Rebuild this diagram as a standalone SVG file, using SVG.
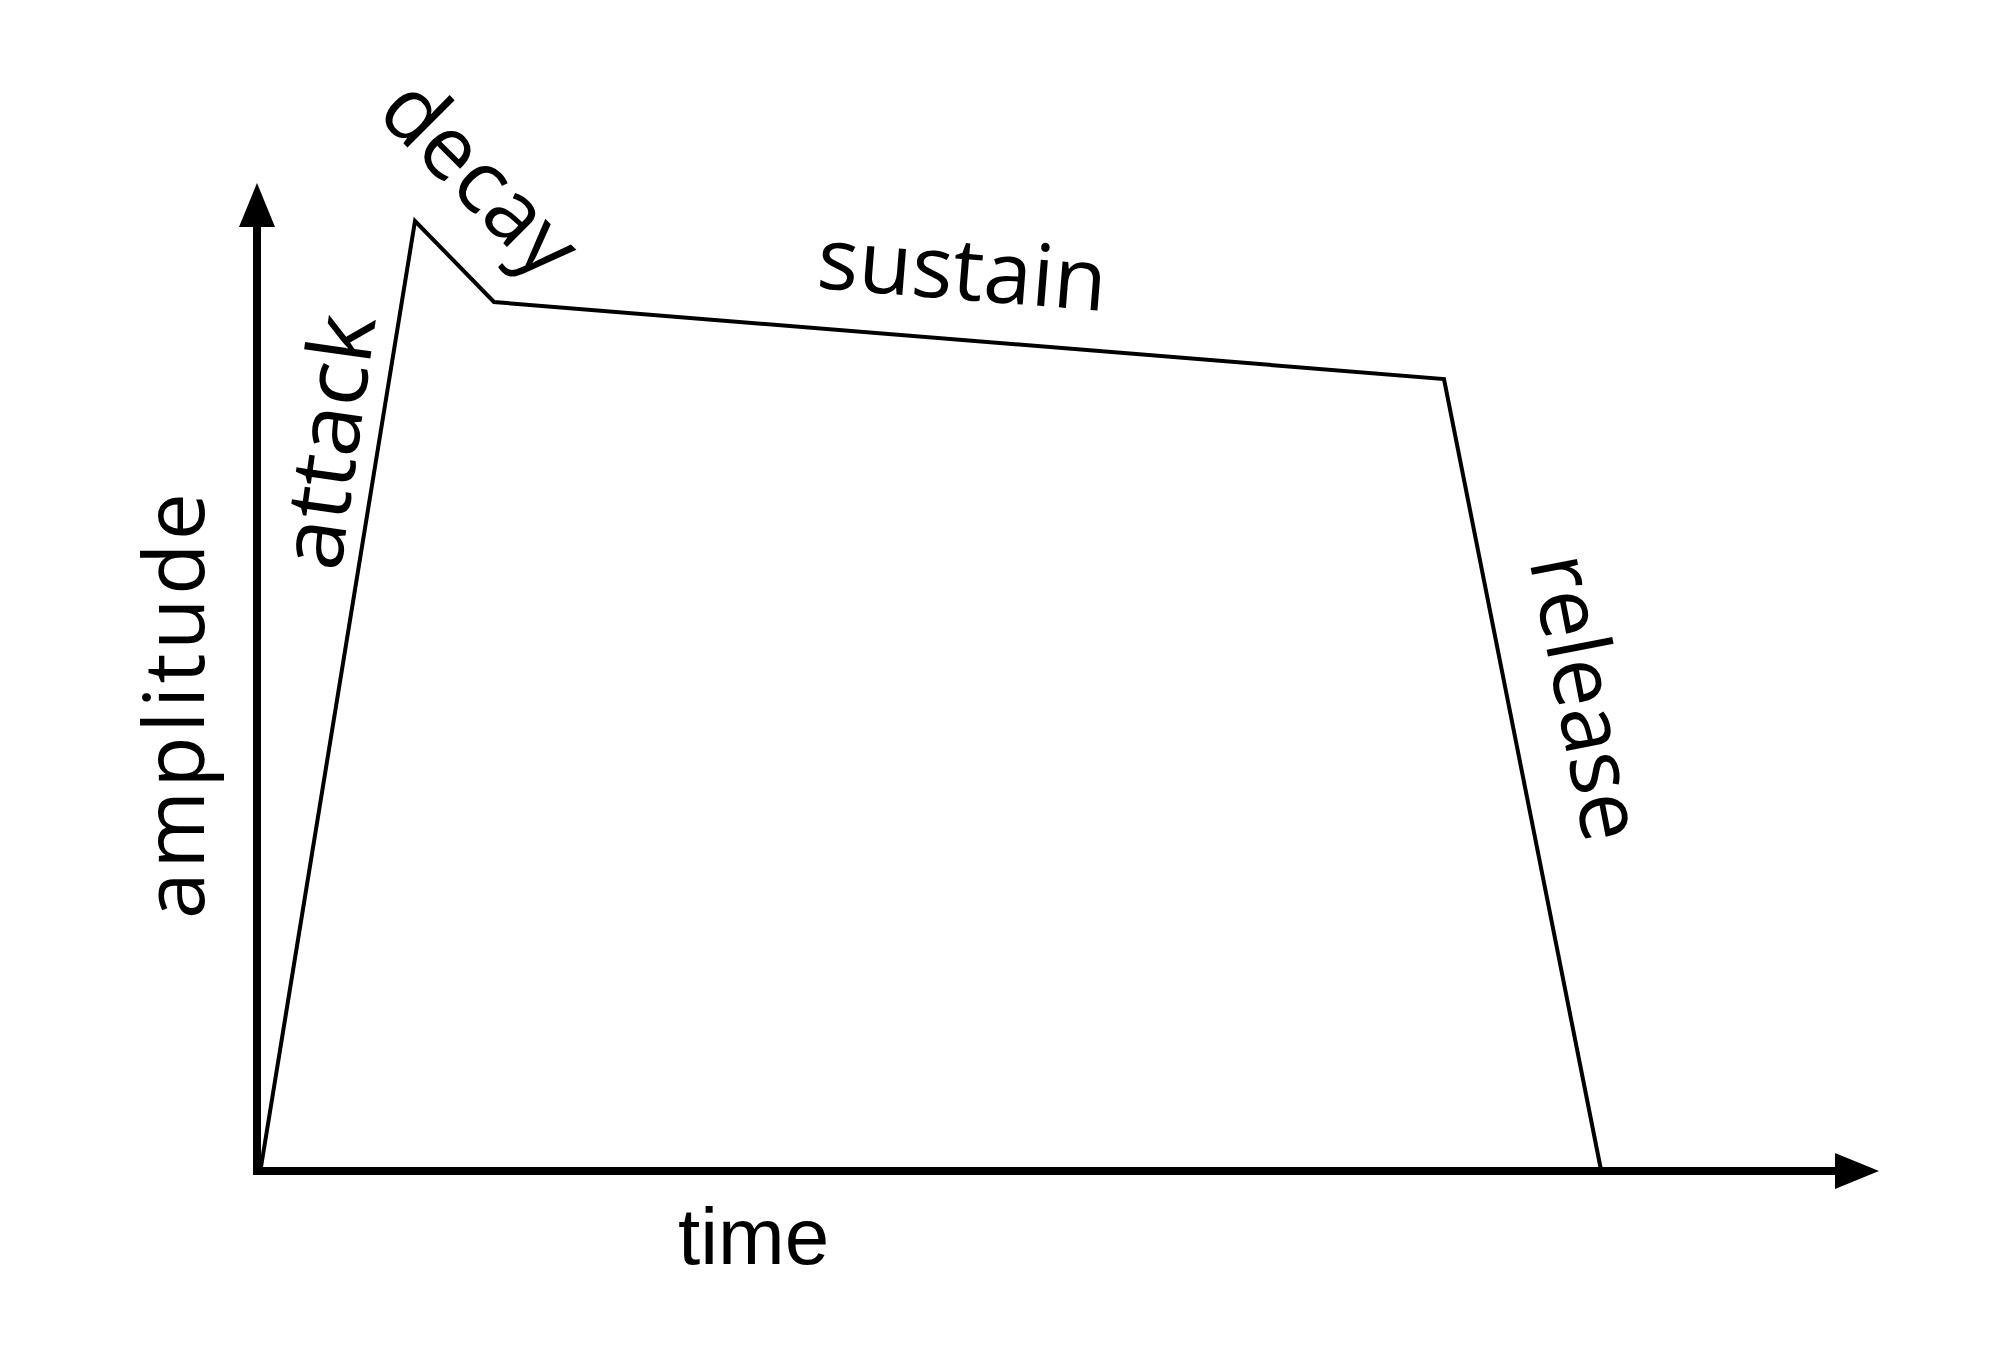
<svg xmlns="http://www.w3.org/2000/svg" width="2000" height="1368" viewBox="0 0 2000 1368">
  <style>
    .axis { stroke: #000; stroke-width: 8; fill: none; }
    .head { fill: #000; stroke: none; }
    .env { stroke: #000; stroke-width: 4; fill: none; stroke-linejoin: miter; }
    .lbl { font-family: "Open Sans", "Noto Sans", sans-serif; font-size: 88px; font-weight: 500; fill: #000; text-anchor: middle; }
    .time { font-family: "Liberation Sans", Arial, sans-serif; font-size: 80px; fill: #000; }
  </style>
  <rect width="2000" height="1368" fill="#fff"/>
  <g id="axes">
    <line class="axis" x1="257" y1="1175" x2="257" y2="222"/>
    <polygon class="head" points="257,183 275,227 239,227"/>
    <line class="axis" x1="253" y1="1171" x2="1840" y2="1171"/>
    <polygon class="head" points="1879,1171 1835,1153 1835,1189"/>
  </g>
  <g id="envelope">
    <polyline class="env" points="261,1167 415,221 494,302 1444,379 1601,1170"/>
  </g>
  <g id="labels">
    <text class="lbl" transform="translate(204,706) rotate(-90)" style="font-size:84px" textLength="426" lengthAdjust="spacing">amplitude</text>
    <text class="time" x="678" y="1264">time</text>
    <text class="lbl" transform="translate(358,446) rotate(-82)" textLength="256" lengthAdjust="spacingAndGlyphs">attack</text>
    <text class="lbl" transform="translate(459,199) rotate(45)" textLength="238" lengthAdjust="spacingAndGlyphs">decay</text>
    <text class="lbl" transform="translate(960,299.5) rotate(4.6)" style="font-size:86px" textLength="290" lengthAdjust="spacingAndGlyphs">sustain</text>
    <text class="lbl" transform="translate(1557,703) rotate(79)" textLength="290" lengthAdjust="spacingAndGlyphs">release</text>
  </g>
</svg>
